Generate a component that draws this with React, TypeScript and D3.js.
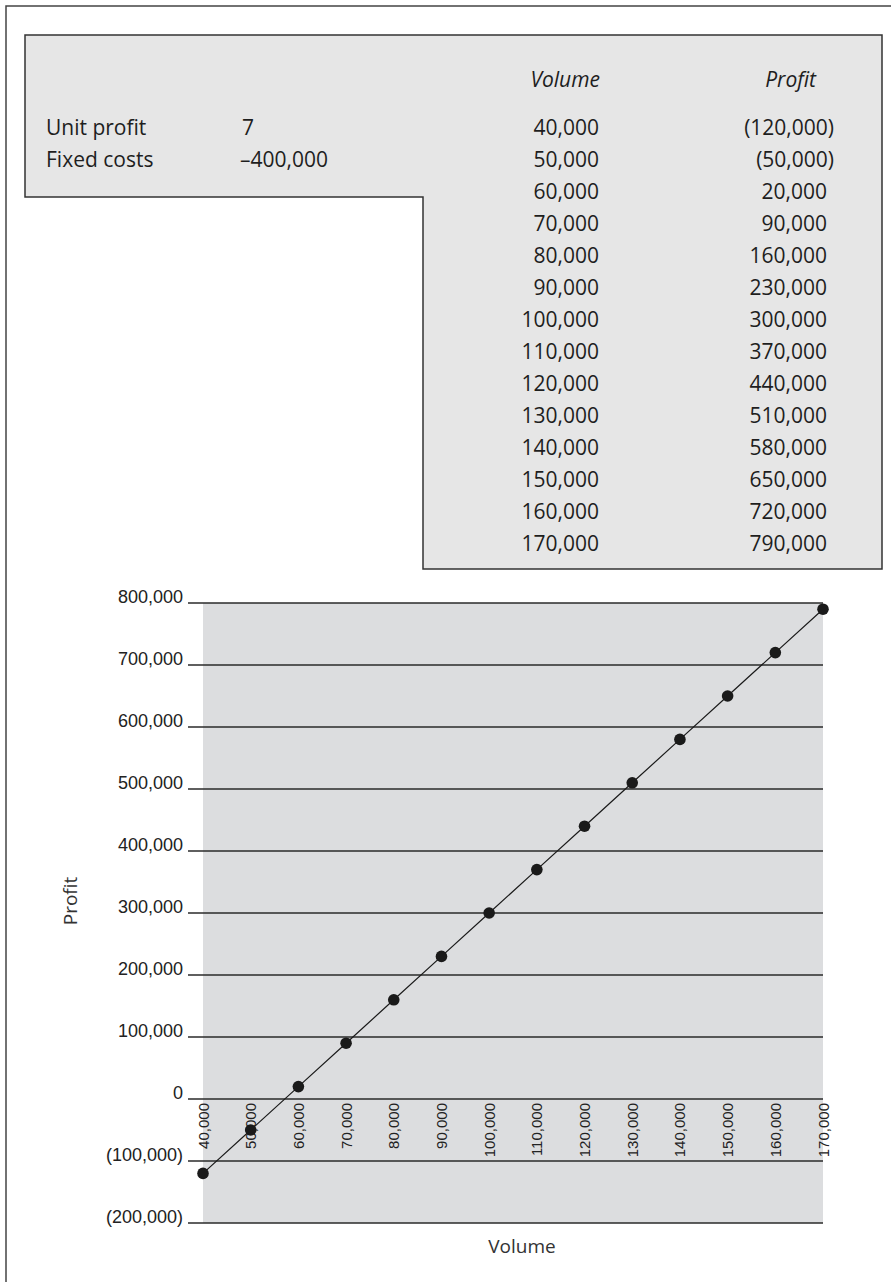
import React from "react";
import * as d3 from "d3";

// table inputs
const unitProfit = "7";
const fixedCosts = "–400,000";

// series
const volumes = [40000, 50000, 60000, 70000, 80000, 90000, 100000, 110000, 120000, 130000, 140000, 150000, 160000, 170000];
const profits = [-120000, -50000, 20000, 90000, 160000, 230000, 300000, 370000, 440000, 510000, 580000, 650000, 720000, 790000];

// axis ticks
const yTicks = [-200000, -100000, 0, 100000, 200000, 300000, 400000, 500000, 600000, 700000, 800000];
const xTicks = volumes;

const W = 891;
const H = 1282;

const plot = { left: 203, right: 823, top: 603, bottom: 1223 };

const comma = d3.format(",");
const acct = (v: number) => (v < 0 ? `(${comma(-v)})` : comma(v));

const tableFont = "'Open Sans', 'Noto Sans', sans-serif";
const chartFont = "'Liberation Sans', Arial, sans-serif";

export default function App() {
  const x = d3.scaleLinear().domain([40000, 170000]).range([plot.left, plot.right]);
  const y = d3.scaleLinear().domain([-200000, 800000]).range([plot.bottom, plot.top]);

  const pts = volumes.map((v, i) => ({ v, p: profits[i] }));
  const line = d3
    .line<{ v: number; p: number }>()
    .x((d) => x(d.v))
    .y((d) => y(d.p));

  const rowY = (i: number) => 135 + i * 32;

  return (
    <svg
      width={W}
      height={H}
      style={{ position: "absolute", left: 0, top: 0, display: "block", background: "#fff" }}
    >
      {/* outer frame, cut by the picture edge */}
      <rect x={6} y={6} width={920} height={1320} fill="none" stroke="#444" strokeWidth={1.5} />

      {/* table box */}
      <path
        d="M25,35 H882 V569 H423 V197 H25 Z"
        fill="#e6e6e6"
        stroke="#333"
        strokeWidth={1.5}
      />
      <g fontFamily={tableFont} fontSize={21} fill="#1e1e1e">
        <text x={600} y={87} textAnchor="end" fontStyle="italic">Volume</text>
        <text x={816} y={87} textAnchor="end" fontStyle="italic">Profit</text>
        <text x={46} y={rowY(0)}>Unit profit</text>
        <text x={242} y={rowY(0)}>{unitProfit}</text>
        <text x={46} y={rowY(1)}>Fixed costs</text>
        <text x={240} y={rowY(1)}>{fixedCosts}</text>
        {volumes.map((v, i) => (
          <text key={"v" + v} x={599} y={rowY(i)} textAnchor="end">{comma(v)}</text>
        ))}
        {profits.map((p, i) => (
          <text key={"p" + i} x={p < 0 ? 834 : 827} y={rowY(i)} textAnchor="end">{acct(p)}</text>
        ))}
      </g>

      {/* chart */}
      <rect
        x={plot.left}
        y={plot.top}
        width={plot.right - plot.left}
        height={plot.bottom - plot.top}
        fill="#dcdddf"
      />
      {yTicks.map((t) => (
        <g key={"y" + t}>
          <line x1={188} x2={plot.right} y1={y(t)} y2={y(t)} stroke="#2a2a2a" strokeWidth={1.3} />
          <text
            x={183}
            y={y(t) - 0.5}
            textAnchor="end"
            fontFamily={chartFont}
            fontSize={18}
            fill="#222"
          >
            {acct(t)}
          </text>
        </g>
      ))}
      {xTicks.map((t) => (
        <text
          key={"x" + t}
          transform={`translate(${x(t) + 5.5},1103) rotate(-90)`}
          textAnchor="end"
          fontFamily={chartFont}
          fontSize={15}
          fill="#222"
        >
          {comma(t)}
        </text>
      ))}
      <path d={line(pts) || ""} fill="none" stroke="#1a1a1a" strokeWidth={1.2} />
      {pts.map((d) => (
        <circle key={"c" + d.v} cx={x(d.v)} cy={y(d.p)} r={5.8} fill="#1a1a1a" />
      ))}

      <text
        transform="translate(70,901) rotate(-90)"
        textAnchor="middle"
        dominantBaseline="central"
        fontFamily={tableFont}
        fontSize={19}
        fill="#333"
      >
        Profit
      </text>
      <text
        x={522}
        y={1246}
        textAnchor="middle"
        dominantBaseline="central"
        fontFamily={tableFont}
        fontSize={19}
        fill="#333"
      >
        Volume
      </text>
    </svg>
  );
}
